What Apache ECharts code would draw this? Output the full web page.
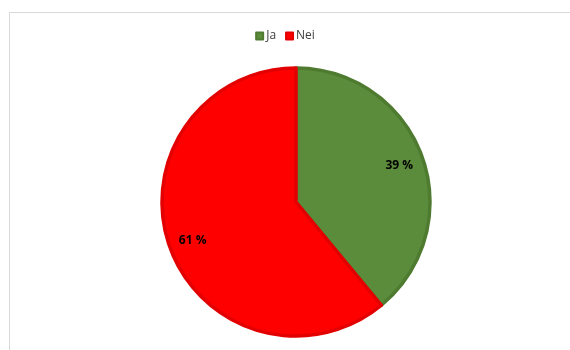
<!DOCTYPE html>
<html>
<head>
<meta charset="utf-8">
<script src="https://cdn.jsdelivr.net/npm/echarts@6/dist/echarts.min.js"></script>
<style>
  html, body { margin: 0; padding: 0; background: #fff; }
  #main { width: 570px; height: 350px; }
</style>
</head>
<body>
<div id="main"></div>
<script>
// data
var categories = ["Ja", "Nei"];
var values = [39, 61];
var fills = ["#5b8c3b", "#ff0000"];
var edges = ["#4f7b31", "#e30000"];

var pieData = [];
for (var i = 0; i < categories.length; i++) {
    pieData.push({
        name: categories[i],
        value: values[i],
        itemStyle: { color: fills[i], borderColor: edges[i], borderWidth: 3.5 }
    });
}
// transparent ring only used to place the labels further out
var labelOffsets = [[-3, 2], [3, 0]];
var labelData = [];
for (var j = 0; j < categories.length; j++) {
    labelData.push({ name: categories[j], value: values[j], label: { offset: labelOffsets[j] } });
}

var myChart = echarts.init(document.getElementById("main"));
var option = {
    animation: false,
    graphic: [{
        type: "rect",
        shape: { x: 9.5, y: 12.5, width: 600, height: 400 },
        style: { fill: "none", stroke: "#d9d9d9", lineWidth: 1 },
        silent: true
    }],
    legend: {
        top: 25,
        left: "center",
        itemWidth: 7,
        itemHeight: 7,
        itemGap: 9,
        icon: "rect",
        data: categories,
        textStyle: { fontFamily: "Open Sans", fontSize: 12, color: "#404040", padding: [0, 0, 0, -2] }
    },
    series: [{
        type: "pie",
        center: [296, 202],
        radius: [0, 134],
        startAngle: 90,
        clockwise: true,
        label: { show: false },
        labelLine: { show: false },
        emphasis: { disabled: true },
        data: pieData
    }, {
        type: "pie",
        center: [296, 202],
        radius: [84, 136],
        startAngle: 90,
        clockwise: true,
        silent: true,
        itemStyle: { color: "rgba(0,0,0,0)", borderWidth: 0 },
        label: {
            show: true,
            position: "inside",
            formatter: "{c} %",
            fontFamily: "Open Sans",
            fontWeight: "bold",
            fontSize: 12,
            color: "#000"
        },
        labelLine: { show: false },
        emphasis: { disabled: true },
        data: labelData
    }]
};
myChart.setOption(option);
</script>
</body>
</html>
